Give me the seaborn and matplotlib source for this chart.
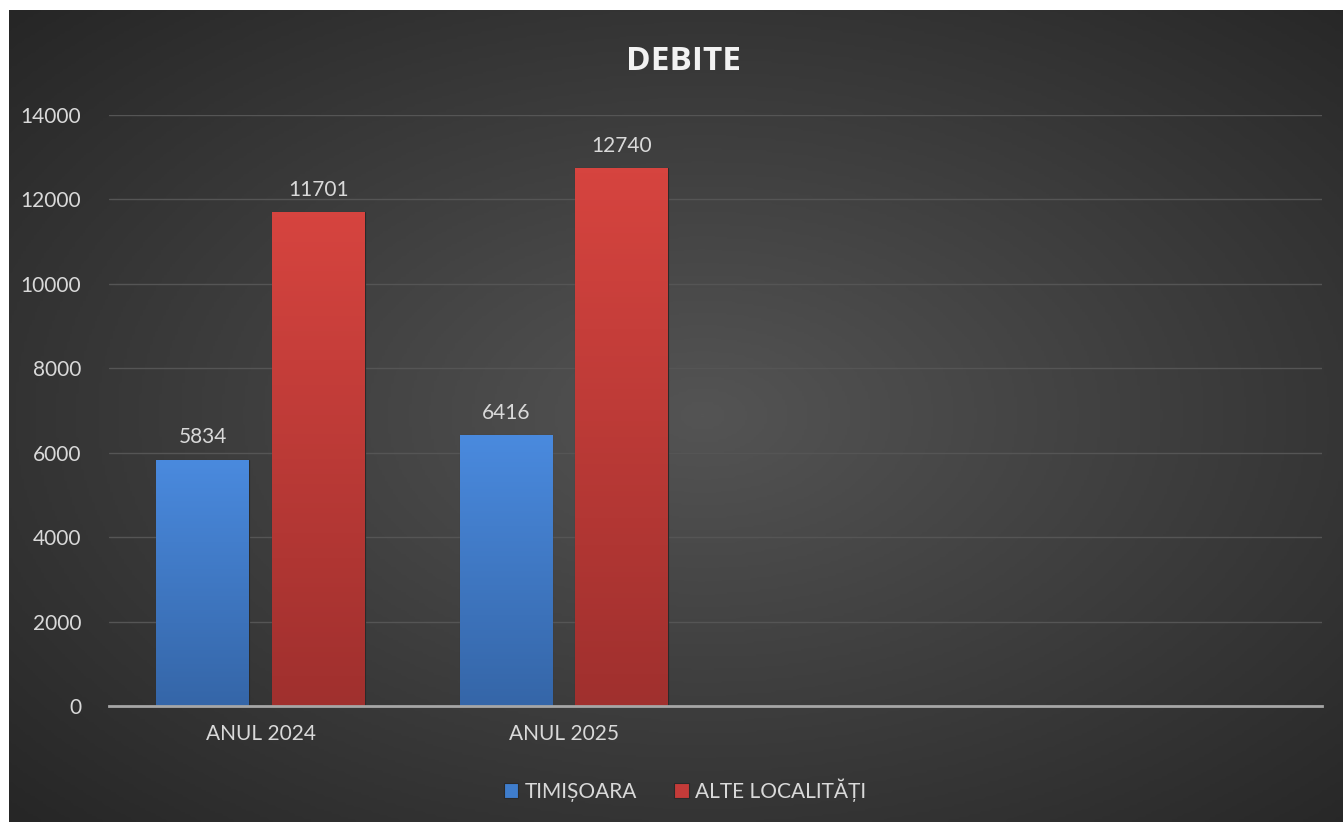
import numpy as np
import pandas as pd
import seaborn as sns
import matplotlib.pyplot as plt
from matplotlib.colors import LinearSegmentedColormap

# Data
years = ["ANUL 2024", "ANUL 2025"]
timisoara = [5834, 6416]
alte_localitati = [11701, 12740]
series_names = ["TIMIȘOARA", "ALTE LOCALITĂȚI"]
y_ticks = [0, 2000, 4000, 6000, 8000, 10000, 12000, 14000]

df = pd.DataFrame({
    "an": years * 2,
    "valoare": timisoara + alte_localitati,
    "serie": [series_names[0]] * len(years) + [series_names[1]] * len(years),
})

sns.set_style("dark")
plt.rcParams['font.family'] = ['Lato', 'DejaVu Sans']
text_col = "#d9d9d9"

fig = plt.figure(figsize=(13.43, 8.22), dpi=100)
fig.patch.set_facecolor("white")

# Background with a soft radial gradient
bg = fig.add_axes([9 / 1343, 0, 1 - 9 / 1343, 812 / 822])
yy, xx = np.mgrid[0:1:300j, 0:1:500j]
r = np.sqrt(((xx - 0.52) / 0.75) ** 2 + ((yy - 0.5) / 0.75) ** 2)
r = np.clip(r / r.max(), 0, 1)
bg_cmap = LinearSegmentedColormap.from_list("bg", ["#545454", "#262626"])
bg.imshow(r, cmap=bg_cmap, aspect="auto", extent=[0, 1, 0, 1], vmin=0, vmax=1)
bg.set_axis_off()

ax = fig.add_axes([109 / 1343, 116 / 822, 1213 / 1343, 591 / 822])
ax.set_facecolor("none")

palette = {series_names[0]: "#3f7dcc", series_names[1]: "#c43b39"}
sns.barplot(data=df, x="an", y="valoare", hue="serie", palette=palette,
            width=0.764, gap=0.2, saturation=1, ax=ax,
            edgecolor="#2a2a2a", linewidth=0.8)

# gradient shading on each bar
grad = {
    series_names[0]: LinearSegmentedColormap.from_list("b", ["#3566a8", "#4a8ade"]),
    series_names[1]: LinearSegmentedColormap.from_list("r", ["#a0302e", "#d6443f"]),
}
for cont, name in zip(ax.containers, series_names):
    for patch in cont.patches:
        x0, y0 = patch.get_x(), patch.get_y()
        w, h = patch.get_width(), patch.get_height()
        g = np.linspace(0, 1, 100).reshape(-1, 1)
        im = ax.imshow(g, cmap=grad[name], origin="lower", aspect="auto",
                       extent=[x0, x0 + w, y0, y0 + h], zorder=2.5)
        im.set_clip_path(patch)
    ax.bar_label(cont, fmt="%d", padding=9, color=text_col, fontsize=15)

ax.set_xlim(-0.5, 3.5)
ax.set_ylim(0, 14000)
ax.set_yticks(y_ticks)
ax.set_yticklabels([str(v) for v in y_ticks])
ax.set_xlabel("")
ax.set_ylabel("")
ax.tick_params(axis="both", length=0, labelsize=15, colors=text_col)
ax.tick_params(axis="y", pad=20)
ax.tick_params(axis="x", pad=13)
ax.yaxis.grid(True, color="#555555", linewidth=1)
ax.xaxis.grid(False)
for s in ["top", "right", "left"]:
    ax.spines[s].set_visible(False)
ax.spines["bottom"].set_color("#a6a6a6")
ax.spines["bottom"].set_linewidth(2)

fig.text(0.509, 0.925, "DEBITE", ha="center", va="center", fontsize=24,
         fontweight="bold", color="#f2f2f2", family=["Open Sans", "DejaVu Sans"])

handles, labels = ax.get_legend_handles_labels()
ax.legend_.remove()
fig.legend(handles, labels, loc="center", bbox_to_anchor=(0.51, 0.039), ncol=2,
           frameon=False, fontsize=15, labelcolor=text_col, handlelength=0.7,
           handleheight=0.7, handletextpad=0.3, columnspacing=1.8)

fig.savefig("out.png", dpi=100, facecolor=fig.get_facecolor())
